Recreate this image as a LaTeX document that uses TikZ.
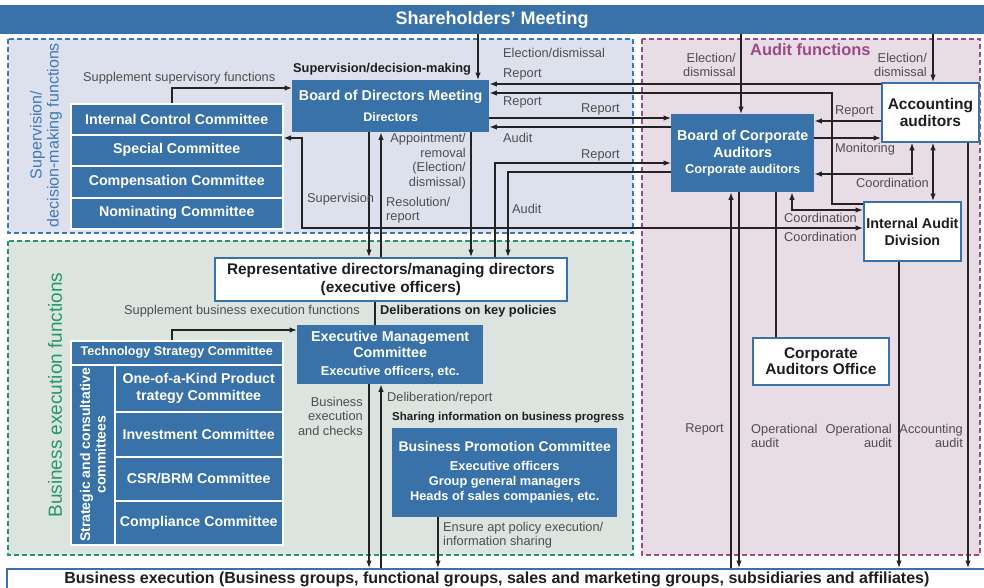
\documentclass[tikz,border=0pt]{standalone}
\usepackage{fontspec}
\setmainfont{Liberation Sans}
\usetikzlibrary{arrows.meta,calc}
\definecolor{cblue}{RGB}{56,114,168}
\definecolor{supfill}{RGB}{221,225,238}
\definecolor{supline}{RGB}{62,120,182}
\definecolor{exfill}{RGB}{220,228,224}
\definecolor{exline}{RGB}{38,150,110}
\definecolor{audfill}{RGB}{232,220,229}
\definecolor{audline}{RGB}{155,75,135}
\definecolor{lblc}{RGB}{78,78,78}
\definecolor{lnc}{RGB}{35,35,35}
\definecolor{dark}{RGB}{30,30,30}
\tikzset{
 region/.style={dash pattern=on 5pt off 3pt, line width=1.6pt},
 bbox/.style={fill=cblue, text=white, align=center, inner sep=0pt, anchor=north west},
 wbox/.style={fill=white, draw=cblue, line width=1.8pt, text=dark, align=center, inner sep=0pt, anchor=north west},
 cbox/.style={fill=cblue, draw=white, line width=1.5pt, text=white, font=\bfseries\fontsize{14.2}{17}\selectfont, align=center, inner sep=0pt, anchor=north west},
 lbl/.style={text=lblc, font=\fontsize{12.8}{14.5}\selectfont, inner sep=0pt},
 blbl/.style={text=dark, inner sep=0pt},
 conn/.style={draw=lnc, line width=1.2pt},
 arr/.style={conn, -{Latex[length=7.5pt,width=5.5pt]}},
 arrr/.style={conn, {Latex[length=7.5pt,width=5.5pt]}-{Latex[length=7.5pt,width=5.5pt]}},
}
\begin{document}
\begin{tikzpicture}[x=1pt,y=-1pt]
\useasboundingbox[fill=white] (0,0) rectangle (984,587);
% regions
\draw[region, draw=supline, fill=supfill] (8,39) rectangle (633,233);
\draw[region, draw=exline, fill=exfill] (8,241) rectangle (633,555);
\draw[region, draw=audline, fill=audfill] (642,39) rectangle (980,555);
% region titles
\node[text=supline, font=\fontsize{16}{17}\selectfont, rotate=90, align=center, inner sep=0pt] (tsup) at (46,135) {Supervision/\\decision-making functions};
\node[text=exline, font=\fontsize{19}{20}\selectfont, rotate=90, inner sep=0pt] (texe) at (55,395) {Business execution functions};
\node[text=audline, font=\bfseries\fontsize{16.4}{18}\selectfont, anchor=west, inner sep=0pt] (taud) at (750,50) {Audit functions};
% top and bottom bars
\node[fill=cblue, anchor=north west, minimum width=984pt, minimum height=29pt, inner sep=0pt, text=white, font=\bfseries\fontsize{18}{20}\selectfont] (sh) at (0,5) {Shareholders' Meeting};
\node[fill=white, draw=cblue, line width=1.8pt, anchor=north west, minimum width=980pt, minimum height=21pt, inner sep=0pt, font=\bfseries\fontsize{16}{18}\selectfont, text=dark] (be) at (6,568) {Business execution (Business groups, functional groups, sales and marketing groups, subsidiaries and affiliates)};
% supervision boxes
\node[bbox, minimum width=197pt, minimum height=52pt, font=\bfseries\fontsize{14.3}{16}\selectfont] (bod) at (292,80) {Board of Directors Meeting\\[5pt]\fontsize{12.5}{14}\selectfont Directors};
\node[cbox, minimum width=212pt, minimum height=31pt] (icc) at (70,103) {Internal Control Committee};
\node[cbox, minimum width=212pt, minimum height=31pt] (spc) at (70,134) {Special Committee};
\node[cbox, minimum width=212pt, minimum height=32pt] (cmp) at (70,165) {Compensation Committee};
\node[cbox, minimum width=212pt, minimum height=31pt] (nom) at (70,197) {Nominating Committee};
% audit boxes
\node[bbox, minimum width=143pt, minimum height=78pt, font=\bfseries\fontsize{14.3}{16.5}\selectfont] (bca) at (671,114) {Board of Corporate\\Auditors\\[0pt]\fontsize{12.8}{15}\selectfont Corporate auditors};
\node[wbox, minimum width=97pt, minimum height=59pt, font=\bfseries\fontsize{15.5}{17.5}\selectfont] (acc) at (881,82) {Accounting\\auditors};
\node[wbox, minimum width=97pt, minimum height=59pt, font=\bfseries\fontsize{14.3}{17}\selectfont] (iad) at (863,201) {Internal Audit\\Division};
\node[wbox, minimum width=136pt, minimum height=47pt, font=\bfseries\fontsize{15.4}{16.5}\selectfont] (cao) at (752,337) {Corporate\\Auditors Office};
% execution boxes
\node[wbox, minimum width=352pt, minimum height=43pt, font=\bfseries\fontsize{15.4}{18}\selectfont] (rep) at (214,257) {Representative directors/managing directors\\(executive officers)};
\node[bbox, minimum width=186pt, minimum height=59pt, font=\bfseries\fontsize{14.3}{16}\selectfont] (emc) at (297,325) {Executive Management\\Committee\\[2pt]\fontsize{12.8}{15}\selectfont Executive officers, etc.};
\node[cbox, minimum width=212pt, minimum height=24pt, font=\bfseries\fontsize{12.6}{14}\selectfont] (tsc) at (70,340) {Technology Strategy Committee};
\node[cbox, minimum width=44pt, minimum height=180pt] (scol) at (70,364) {};
\node[text=white, font=\bfseries\fontsize{14}{15.5}\selectfont, rotate=90, align=center, inner sep=0pt] (scoltxt) at (scol.center) {Strategic and consultative\\committees};
\node[cbox, minimum width=168pt, minimum height=47pt] (okp) at (114,364) {One-of-a-Kind Product\\trategy Committee};
\node[cbox, minimum width=168pt, minimum height=45pt] (inv) at (114,411) {Investment Committee};
\node[cbox, minimum width=168pt, minimum height=44pt] (csr) at (114,456) {CSR/BRM Committee};
\node[cbox, minimum width=168pt, minimum height=44pt] (cmpl) at (114,500) {Compliance Committee};
\node[bbox, minimum width=225pt, minimum height=89pt, font=\bfseries\fontsize{12.8}{15}\selectfont] (bpc) at (392,428) {{\fontsize{14}{16}\selectfont Business Promotion Committee}\\[4pt]Executive officers\\Group general managers\\Heads of sales companies, etc.};
% ---- connectors: supervision
\draw[arr] (icc.north -| 172,0) |- (bod.west |- 0,88);
\draw[arrr] (spc.east |- 0,138) -- (302,138) -- (302,228) -- (iad.west |- 0,228);
\draw[arr] (sh.south -| 478,0) -- (bod.north -| 478,0);
\draw[arr] (sh.south -| 741,0) -- (bca.north -| 741,0);
\draw[arr] (sh.south -| 933,0) -- (acc.north -| 933,0);
\draw[arr] (acc.west |- 0,84) -- (bod.east |- 0,84);
\draw[arr] (iad.west |- 0,204) -| (832,93) -- (bod.east |- 0,93);
\draw[arr] (bod.east |- 0,118) -- (bca.west |- 0,118);
\draw[arr] (bca.west |- 0,127) -- (bod.east |- 0,127);
\draw[arr] (bod.south -| 369,0) -- (rep.north -| 369,0);
\draw[arr] (rep.north -| 381,0) -- (bod.south -| 381,0);
\draw[arr] (bod.south -| 471,0) -- (rep.north -| 471,0);
\draw[arr] (rep.north -| 495,0) |- (bca.west |- 0,163);
\draw[arr] (bca.west |- 0,172) -| (rep.north -| 508,0);
% audit connectors
\draw[arr] (acc.west |- 0,121) -- (bca.east |- 0,121);
\draw[arr] (bca.east |- 0,138) -- (acc.west |- 0,138);
\draw[arrr] (bca.east |- 0,174) -| (acc.south -| 912,0);
\draw[arrr] (acc.south -| 933,0) -- (iad.north -| 933,0);
\draw[arrr] (bca.south -| 792,0) |- (iad.west |- 0,210);
\draw[arr] (acc.south -| 968,0) -- (be.north -| 968,0);
\draw[arr] (iad.south -| 899,0) -- (be.north -| 899,0);
\draw[arr] (bca.south -| 739,0) -- (be.north -| 739,0);
\draw[arr] (be.north -| 731,0) -- (bca.south -| 731,0);
\draw[conn] (bca.south -| 776,0) -- (cao.north -| 776,0);
% execution connectors
\draw[conn] (rep.south -| 375,0) -- (emc.north -| 375,0);
\draw[arr] (tsc.north -| 172,0) |- (emc.west |- 0,330);
\draw[arr] (emc.south -| 369,0) -- (be.north -| 369,0);
\draw[arr] (be.north -| 381,0) -- (emc.south -| 381,0);
\draw[arr] (bpc.south -| 438,0) -- (be.north -| 438,0);
% labels
\node[lbl, anchor=west] (l1) at (83,78) {Supplement supervisory functions};
\node[blbl, anchor=west, font=\bfseries\fontsize{12.8}{14}\selectfont] (l2) at (293,69) {Supervision/decision-making};
\node[lbl, anchor=west] (l3) at (503,53) {Election/dismissal};
\node[lbl, anchor=west] (l4) at (503,74) {Report};
\node[lbl, anchor=west] (l5) at (503,102) {Report};
\node[lbl, anchor=west] (l6) at (581,109) {Report};
\node[lbl, anchor=west] (l7) at (503,138) {Audit};
\node[lbl, anchor=west] (l8) at (581,155) {Report};
\node[lbl, anchor=west] (l9) at (512,209) {Audit};
\node[lbl, anchor=east, align=right] (l10) at (466,161) {Appointment/\\removal\\(Election/\\dismissal)};
\node[lbl, anchor=west] (l11) at (307,199) {Supervision};
\node[lbl, anchor=west, align=left] (l12) at (386,210) {Resolution/\\report};
\node[lbl, anchor=east, align=right] (l13) at (736,65) {Election/\\dismissal};
\node[lbl, anchor=east, align=right] (l14) at (927,65) {Election/\\dismissal};
\node[lbl, anchor=west] (l15) at (835,111) {Report};
\node[lbl, anchor=west] (l16) at (835,149) {Monitoring};
\node[lbl, anchor=west] (l17) at (856,183) {Coordination};
\node[lbl, anchor=west] (l18) at (784,218) {Coordination};
\node[lbl, anchor=west] (l19) at (784,237) {Coordination};
\node[lbl, anchor=east] (l20) at (724,429) {Report};
\node[lbl, anchor=west, align=left] (l21) at (751,436) {Operational\\audit};
\node[lbl, anchor=east, align=right] (l22) at (892,436) {Operational\\audit};
\node[lbl, anchor=east, align=right] (l23) at (963,436) {Accounting\\audit};
\node[lbl, anchor=west] (l24) at (124,311) {Supplement business execution functions};
\node[blbl, anchor=west, font=\bfseries\fontsize{12.8}{14}\selectfont] (l25) at (380,311) {Deliberations on key policies};
\node[lbl, anchor=east, align=right] (l26) at (363,416) {Business\\execution\\and checks};
\node[lbl, anchor=west] (l27) at (387,398) {Deliberation/report};
\node[blbl, anchor=west, font=\bfseries\fontsize{11.5}{14}\selectfont] (l28) at (392,418) {Sharing information on business progress};
\node[lbl, anchor=west, align=left] (l29) at (443,535) {Ensure apt policy execution/\\information sharing};
\end{tikzpicture}
\end{document}
